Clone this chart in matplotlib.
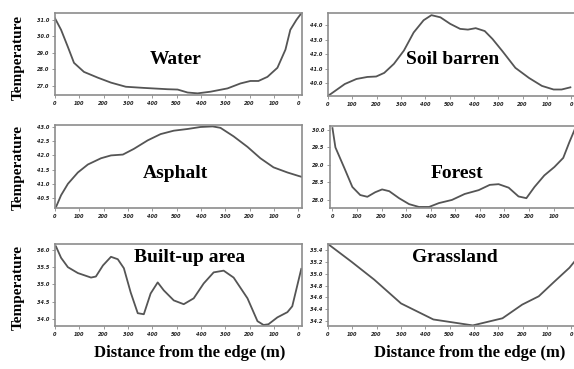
import matplotlib
matplotlib.use("Agg")
import matplotlib.pyplot as plt

# distance along the transect (m), labels mirror back to the other edge
x_ticks = [0, 100, 200, 300, 400, 500, 600, 700, 800, 900, 1000]
x_tick_labels = ["0", "100", "200", "300", "400", "500", "400", "300", "200", "100", "0"]

water_x = [0, 25, 53, 78, 119, 176, 230, 291, 365, 463, 504, 545, 586, 639, 709, 762,
           803, 836, 873, 914, 947, 967, 992, 1012]
water_y = [31.1, 30.4, 29.36, 28.4, 27.85, 27.5, 27.2, 26.95, 26.88, 26.8, 26.78, 26.6,
           26.55, 26.65, 26.85, 27.15, 27.3, 27.3, 27.55, 28.1, 29.2, 30.4, 31.0, 31.4]

soil_x = [0, 8, 69, 117, 162, 198, 231, 271, 312, 352, 393, 425, 462, 502, 543, 575, 607,
          644, 676, 717, 770, 826, 879, 927, 960, 996]
soil_y = [39.15, 39.2, 39.93, 40.28, 40.42, 40.45, 40.7, 41.33, 42.25, 43.5, 44.35, 44.7,
          44.55, 44.1, 43.75, 43.7, 43.8, 43.6, 43.05, 42.2, 41.05, 40.35, 39.8, 39.55,
          39.55, 39.7]

asphalt_x = [4, 25, 53, 94, 135, 189, 230, 279, 324, 381, 434, 488, 545, 598, 648, 680,
             734, 791, 844, 898, 955, 1000, 1012]
asphalt_y = [40.18, 40.6, 41.0, 41.4, 41.68, 41.9, 42.0, 42.03, 42.23, 42.53, 42.75, 42.87,
             42.93, 43.0, 43.02, 42.97, 42.67, 42.3, 41.9, 41.58, 41.4, 41.28, 41.25]

forest_x = [0, 12, 49, 81, 113, 142, 174, 202, 231, 271, 312, 352, 393, 433, 486, 538, 595,
            640, 676, 717, 757, 789, 822, 862, 903, 939, 964, 985]
forest_y = [30.05, 29.5, 28.9, 28.37, 28.14, 28.09, 28.22, 28.3, 28.25, 28.05, 27.88, 27.8,
            27.8, 27.91, 28.0, 28.17, 28.28, 28.43, 28.45, 28.35, 28.1, 28.05, 28.37, 28.7,
            28.94, 29.2, 29.65, 30.0]

built_x = [4, 25, 53, 94, 148, 168, 197, 230, 258, 283, 311, 340, 365, 393, 422, 447, 488,
           529, 570, 611, 652, 693, 734, 791, 832, 857, 877, 914, 955, 975, 1012]
built_y = [36.1, 35.77, 35.5, 35.33, 35.2, 35.23, 35.55, 35.8, 35.73, 35.47, 34.77, 34.17,
           34.14, 34.74, 35.06, 34.83, 34.54, 34.43, 34.6, 35.03, 35.35, 35.4, 35.2, 34.6,
           33.94, 33.83, 33.85, 34.05, 34.2, 34.37, 35.45]

grass_x = [0, 97, 190, 300, 433, 595, 717, 798, 866, 931, 992, 1012]
grass_y = [35.5, 35.2, 34.9, 34.5, 34.23, 34.13, 34.25, 34.48, 34.62, 34.87, 35.1, 35.2]

W, H = 574, 369
fig = plt.figure(figsize=(W / 100, H / 100), dpi=100)
serif = "Liberation Serif"


def panel(left, top, bottom, x, y, xlim, ylim, yticks, title, tx, ty):
    ax = fig.add_axes([left / W, 1 - bottom / H, 247 / W, (bottom - top) / H])
    ax.plot(x, y, color="#555555", lw=1.3)
    ax.set_xlim(*xlim)
    ax.set_ylim(*ylim)
    # keep only the ticks that fall inside the visible range
    shown = [(t, l) for t, l in zip(x_ticks, x_tick_labels) if xlim[0] <= t <= xlim[1]]
    ax.set_xticks([t for t, l in shown])
    ax.set_xticklabels([l for t, l in shown])
    ax.set_yticks(yticks)
    ax.set_yticklabels(["%.1f" % v for v in yticks])
    ax.tick_params(length=2, width=0.6, pad=2, labelsize=3.6, colors="#888888",
                   labelcolor="#222222")
    for lab in ax.get_xticklabels() + ax.get_yticklabels():
        lab.set_fontweight("bold")
        lab.set_fontstyle("italic")
    for sp in ax.spines.values():
        sp.set_color("#8c8c8c")
        sp.set_linewidth(1.2)
    fig.text(tx / W, 1 - ty / H, title, family=serif, weight="bold", fontsize=14,
             ha="center", va="center")
    return ax


panel(55, 13, 95, water_x, water_y, (0, 1015), (26.45, 31.42),
      [27.0, 28.0, 29.0, 30.0, 31.0], "Water", 176, 60)
panel(328, 13, 96, soil_x, soil_y, (0, 1015), (39.1, 44.85),
      [40.0, 41.0, 42.0, 43.0, 44.0], "Soil barren", 453, 60)
panel(55, 125, 208, asphalt_x, asphalt_y, (0, 1015), (40.15, 43.07),
      [40.5, 41.0, 41.5, 42.0, 42.5, 43.0], "Asphalt", 175, 174)
panel(330, 126, 208, forest_x, forest_y, (-10, 995), (27.77, 30.11),
      [28.0, 28.5, 29.0, 29.5, 30.0], "Forest", 457, 174)
panel(55, 244, 326, built_x, built_y, (0, 1015), (33.8, 36.17),
      [34.0, 34.5, 35.0, 35.5, 36.0], "Built-up area", 190, 258)
panel(328, 244, 326, grass_x, grass_y, (0, 1015), (34.12, 35.5),
      [34.2, 34.4, 34.6, 34.8, 35.0, 35.2, 35.4], "Grassland", 455, 258)

for ty in [57, 168, 287]:
    fig.text(18 / W, 1 - ty / H, "Temperature", family=serif, weight="bold",
             fontsize=11, rotation=90, ha="center", va="center")

for tx in [190, 470]:
    fig.text(tx / W, 1 - 353 / H, "Distance from the edge (m)", family=serif,
             weight="bold", fontsize=12, ha="center", va="center")

fig.savefig("out.png", dpi=100)
